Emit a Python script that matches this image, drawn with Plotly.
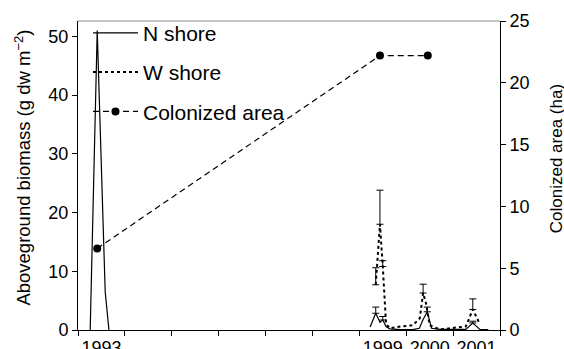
import plotly.graph_objects as go

# ---- data ----
years_n = [1993.26, 1993.41, 1993.58, 1993.66, None,
           1999.23, 1999.35, 1999.44, 1999.50, 1999.57, 1999.65, 1999.87,
           2000.14, 2000.28, 2000.36, 2000.45, 2000.54, 2000.72,
           2001.27, 2001.42, 2001.57, 2001.75]
n_shore = [0, 51, 6.5, 0, None,
           0.5, 2.85, 1.3, 1.7, 0.6, 0.2, 0.05,
           0.05, 0.3, 1.8, 3.1, 0.3, 0.1,
           0.1, 1.2, 0.1, 0.05]
n_err = [None, None, None, None, None,
         None, 1.05, None, 0.6, None, None, None,
         None, None, None, 0.8, None, None,
         None, 0.3, None, None]

years_w = [1999.35, 1999.44, 1999.50, 1999.57, 1999.65, 1999.87,
           2000.14, 2000.29, 2000.36, 2000.42, 2000.50, 2000.72,
           2001.27, 2001.42, 2001.57]
w_shore = [7.7, 18.0, 10.8, 1.0, 0.3, 0.6,
           0.8, 2.0, 6.3, 4.6, 0.8, 0.1,
           0.6, 3.5, 1.0]
w_err = [2.9, 5.8, 1.0, None, None, None,
         None, None, 1.5, None, None, None,
         None, 1.8, None]

years_area = [1993.41, 1999.44, 2000.46]
colonized_area = [6.6, 22.2, 22.2]

year_labels = ["1993", "1999", "2000", "2001"]
label_pos = [1993.5, 1999.5, 2000.5, 2001.5]
year_bounds = list(range(1993, 2003))

FONT = "Liberation Sans, Arial, Helvetica, sans-serif"


def with_err(xs, ys, errs):
    sel = [(x, y, e) for x, y, e in zip(xs, ys, errs) if e is not None]
    return [s[0] for s in sel], [s[1] for s in sel], [s[2] for s in sel]


fig = go.Figure()
fig.add_trace(go.Scatter(
    x=years_n, y=n_shore, name="N shore", mode="lines",
    line=dict(color="black", width=1.2), connectgaps=False,
    legendgroup="a"))
fig.add_trace(go.Scatter(
    x=years_w, y=w_shore, name="W shore", mode="lines",
    line=dict(color="black", width=2, dash="dot"),
    legendgroup="b"))
fig.add_trace(go.Scatter(
    x=years_area, y=colonized_area, name="Colonized area", mode="lines+markers",
    line=dict(color="black", width=1.2, dash="6px,4px"),
    marker=dict(color="black", size=8),
    yaxis="y2", legendgroup="c"))

# upper-only error bars
for xs, ys, errs, grp in [(years_n, n_shore, n_err, "a"), (years_w, w_shore, w_err, "b")]:
    ex, ey, ee = with_err(xs, ys, errs)
    fig.add_trace(go.Scatter(
        x=ex, y=ey, mode="markers", marker=dict(size=2, opacity=0),
        showlegend=False, legendgroup=grp, hoverinfo="skip",
        error_y=dict(type="data", array=ee, symmetric=False,
                     arrayminus=[0] * len(ee), color="black", thickness=1, width=3.5)))

fig.update_layout(
    width=564, height=349,
    margin=dict(l=78, r=64, t=21, b=19, autoexpand=False),
    paper_bgcolor="white", plot_bgcolor="white",
    font=dict(family=FONT, size=18, color="black"),
    showlegend=True,
    legend=dict(x=0.0237, y=1.027, xanchor="left", yanchor="top",
                bgcolor="rgba(0,0,0,0)", font=dict(size=21),
                tracegroupgap=9, itemwidth=45, traceorder="grouped"),
    xaxis=dict(range=[1993, 2002], tickmode="array", tickvals=label_pos,
               ticktext=year_labels, ticks="outside", ticklen=1,
               tickcolor="rgba(0,0,0,0)", automargin=False,
               minor=dict(tickmode="array", tickvals=year_bounds, ticks="outside",
                          ticklen=5, tickcolor="black", showgrid=False),
               showline=True, linecolor="black", linewidth=1,
               showgrid=False, zeroline=False),
    yaxis=dict(range=[0, 52.6], tickmode="array", tickvals=[0, 10, 20, 30, 40, 50],
               ticks="outside", ticklen=5, tickcolor="black", automargin=False,
               showline=True, linecolor="black", linewidth=1,
               showgrid=False, zeroline=False),
    yaxis2=dict(range=[0, 25], overlaying="y", side="right",
                tickmode="array", tickvals=[0, 5, 10, 15, 20, 25],
                ticks="outside", ticklen=5, tickcolor="black", automargin=False,
                showline=True, linecolor="black", linewidth=1,
                showgrid=False, zeroline=False),
    shapes=[dict(type="line", xref="paper", yref="paper", x0=0, x1=1, y0=1, y1=1,
                 line=dict(color="#888888", width=1))],
    annotations=[
        dict(text="Aboveground biomass (g dw m<sup>−2</sup>)", textangle=-90,
             xref="paper", yref="paper", x=-0.130, y=0.526,
             xanchor="center", yanchor="middle", showarrow=False,
             font=dict(size=18.5)),
        dict(text="Colonized area (ha)", textangle=-90,
             xref="paper", yref="paper", x=1.133, y=0.553,
             xanchor="center", yanchor="middle", showarrow=False,
             font=dict(size=17)),
    ],
)

# remove the browser's default page margin so the 564x349 figure fills the window
fig.write_html("out.html",
               config={"displayModeBar": False},
               post_script="document.body.style.margin='0';"
                           "document.documentElement.style.overflow='hidden';")
